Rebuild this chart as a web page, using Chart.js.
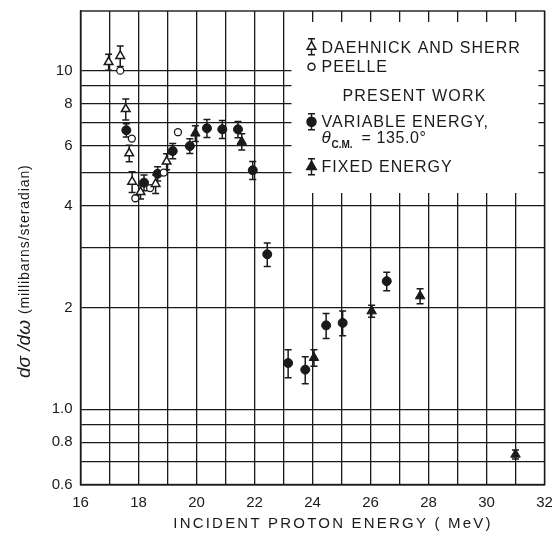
<!DOCTYPE html>
<html>
<head>
<meta charset="utf-8">
<script src="https://cdn.jsdelivr.net/npm/chart.js@4.4.1/dist/chart.umd.min.js"></script>
<style>
  body { margin: 0; background: #fff; }
  canvas { display: block; }
</style>
</head>
<body>
<canvas id="myChart" width="552" height="538"></canvas>
<script>
// values (MeV, millibarns/steradian)
var daehnickX = [16.97, 17.37, 17.56, 17.68, 17.78, 18.07, 18.59, 18.97];
var daehnickY = [10.6, 11.05, 7.7, 5.7, 4.70, 4.38, 4.63, 5.39];
var daehnickErr = [0.57, 0.77, 0.55, 0.32, 0.33, 0.20, 0.29, 0.29];

var peelleX = [17.37, 17.77, 17.89, 18.40, 18.87, 19.36];
var peelleY = [10.0, 6.3, 4.2, 4.5, 5.0, 6.58];

var variableX = [17.58, 18.19, 18.66, 19.18, 19.77, 20.36, 20.89, 21.43, 21.94, 22.44, 23.16, 23.75, 24.47, 25.04, 26.56];
var variableY = [6.67, 4.67, 4.96, 5.79, 5.99, 6.76, 6.71, 6.71, 5.08, 2.87, 1.37, 1.31, 1.77, 1.80, 2.39];
var variableErr = [0.30, 0.25, 0.24, 0.30, 0.30, 0.41, 0.41, 0.37, 0.31, 0.23, 0.13, 0.12, 0.15, 0.15, 0.15];

var fixedX = [19.96, 21.56, 24.05, 26.04, 27.71, 31.0];
var fixedY = [6.53, 6.17, 1.42, 1.95, 2.16, 0.736];
var fixedErr = [0.35, 0.34, 0.08, 0.08, 0.11, 0.023];

var yGridValues = [0.6, 0.7, 0.8, 0.9, 1, 2, 3, 4, 5, 6, 7, 8, 9, 10];
var yTickLabels = ['0.6', '0.8', '1.0', '2', '4', '6', '8', '10'];
var xTickLabels = ['16', '18', '20', '22', '24', '26', '28', '30', '32'];

var INK = '#1a1a1a';

function pts(xs, ys) {
    return xs.map(function (x, i) { return { x: x, y: ys[i] }; });
}

function spacedText(ctx, text, x, y, spacing) {
    ctx.letterSpacing = spacing + 'px';
    ctx.fillText(text, x, y);
    ctx.letterSpacing = '0px';
}

// error bars, drawn before the markers so open symbols cover them
var errorBars = {
    id: 'errorBars',
    beforeDatasetsDraw: function (chart) {
        var ctx = chart.ctx, a = chart.chartArea;
        var yScale = chart.scales.y;
        // white legend panel over the grid
        ctx.save();
        ctx.fillStyle = '#fff';
        ctx.fillRect(a.left + 211, a.top + 11, a.right - a.left - 217, 171);
        ctx.restore();

        ctx.save();
        ctx.strokeStyle = INK;
        ctx.lineWidth = 1.5;
        chart.data.datasets.forEach(function (ds, di) {
            if (!ds.errors) return;
            var meta = chart.getDatasetMeta(di);
            meta.data.forEach(function (el, i) {
                var v = ds.data[i].y, e = ds.errors[i];
                var y1 = yScale.getPixelForValue(v + e);
                var y2 = yScale.getPixelForValue(v - e);
                ctx.beginPath();
                ctx.moveTo(el.x, y1); ctx.lineTo(el.x, y2);
                ctx.moveTo(el.x - 3.5, y1); ctx.lineTo(el.x + 3.5, y1);
                ctx.moveTo(el.x - 3.5, y2); ctx.lineTo(el.x + 3.5, y2);
                ctx.stroke();
            });
        });
        ctx.restore();
    }
};

function legendBar(ctx, x, y) {
    ctx.beginPath();
    ctx.moveTo(x, y - 8); ctx.lineTo(x, y + 8);
    ctx.moveTo(x - 3.5, y - 8); ctx.lineTo(x + 3.5, y - 8);
    ctx.moveTo(x - 3.5, y + 8); ctx.lineTo(x + 3.5, y + 8);
    ctx.stroke();
}
function legendTriangle(ctx, x, y, r, filled) {
    ctx.beginPath();
    ctx.moveTo(x, y - r);
    ctx.lineTo(x + r * 0.866, y + r * 0.5);
    ctx.lineTo(x - r * 0.866, y + r * 0.5);
    ctx.closePath();
    ctx.fillStyle = filled ? INK : '#fff';
    ctx.fill();
    ctx.stroke();
}
function legendCircle(ctx, x, y, r, filled) {
    ctx.beginPath();
    ctx.arc(x, y, r, 0, Math.PI * 2);
    ctx.fillStyle = filled ? INK : '#fff';
    ctx.fill();
    ctx.stroke();
}

var frameAndText = {
    id: 'frameAndText',
    afterDatasetsDraw: function (chart) {
        var ctx = chart.ctx, a = chart.chartArea;
        ctx.save();
        ctx.strokeStyle = INK;
        ctx.lineWidth = 1.4;
        ctx.strokeRect(a.left, a.top, a.right - a.left, a.bottom - a.top);

        // legend
        var l = a.left + 211, t = a.top + 11;
        var sx = l + 20, tx = l + 30;
        ctx.lineWidth = 1.5;
        legendBar(ctx, sx, t + 24.7);
        legendTriangle(ctx, sx, t + 24.7, 5, false);
        legendCircle(ctx, sx, t + 44.7, 3.5, false);
        legendBar(ctx, sx, t + 99.7);
        legendCircle(ctx, sx, t + 99.7, 4.5, true);
        legendBar(ctx, sx, t + 144.7);
        legendTriangle(ctx, sx, t + 144.7, 5.5, true);

        ctx.fillStyle = INK;
        ctx.textBaseline = 'alphabetic';
        ctx.font = '16px "Liberation Sans"';
        ctx.textAlign = 'left';
        spacedText(ctx, 'DAEHNICK AND SHERR', tx, t + 31.3, 1.0);
        spacedText(ctx, 'PEELLE', tx, t + 49.7, 1.0);
        ctx.textAlign = 'center';
        spacedText(ctx, 'PRESENT WORK', l + 123, t + 78.7, 1.2);
        ctx.textAlign = 'left';
        spacedText(ctx, 'VARIABLE ENERGY,', tx, t + 104.7, 1.0);
        spacedText(ctx, 'FIXED ENERGY', tx, t + 149.7, 1.0);
        ctx.font = 'italic 17px "Liberation Sans"';
        ctx.fillText('θ', tx, t + 121.3);
        ctx.font = 'bold 10px "Liberation Sans"';
        ctx.fillText('C.M.', tx + 10, t + 125.5);
        ctx.font = '16px "Liberation Sans"';
        spacedText(ctx, '= 135.0°', tx + 40, t + 121.3, 0.6);

        // x title
        ctx.font = '15px "Liberation Sans"';
        ctx.textAlign = 'center';
        spacedText(ctx, 'INCIDENT PROTON ENERGY ( MeV)', 333, 528, 2.2);

        // y title
        ctx.translate(25, 378);
        ctx.rotate(-Math.PI / 2);
        ctx.textAlign = 'left';
        ctx.textBaseline = 'middle';
        ctx.font = 'italic 19px "Liberation Sans"';
        ctx.fillText('dσ /dω', 0, 0);
        var w = ctx.measureText('dσ /dω').width;
        ctx.font = '14px "Liberation Sans"';
        spacedText(ctx, '(millibarns/steradian)', w + 6, 0, 0.9);
        ctx.restore();
    }
};

var ctx = document.getElementById('myChart');
var myChart = new Chart(ctx, {
    type: 'scatter',
    data: {
        datasets: [{
            label: 'DAEHNICK AND SHERR',
            data: pts(daehnickX, daehnickY),
            errors: daehnickErr,
            pointStyle: 'triangle',
            radius: 5,
            backgroundColor: '#fff',
            borderColor: INK,
            borderWidth: 1.5
        }, {
            label: 'PEELLE',
            data: pts(peelleX, peelleY),
            pointStyle: 'circle',
            radius: 3.5,
            backgroundColor: '#fff',
            borderColor: INK,
            borderWidth: 1.3
        }, {
            label: 'VARIABLE ENERGY',
            data: pts(variableX, variableY),
            errors: variableErr,
            pointStyle: 'circle',
            radius: 4.5,
            backgroundColor: INK,
            borderColor: INK,
            borderWidth: 1
        }, {
            label: 'FIXED ENERGY',
            data: pts(fixedX, fixedY),
            errors: fixedErr,
            pointStyle: 'triangle',
            radius: 5.5,
            backgroundColor: INK,
            borderColor: INK,
            borderWidth: 1
        }]
    },
    options: {
        responsive: false,
        animation: false,
        devicePixelRatio: 1,
        layout: { padding: { top: 11, right: 7.5, left: 0, bottom: 0 } },
        plugins: { legend: { display: false }, tooltip: { enabled: false } },
        scales: {
            x: {
                type: 'linear',
                min: 16,
                max: 32,
                afterBuildTicks: function (scale) {
                    var t = [];
                    for (var v = 16; v <= 32; v++) t.push({ value: v });
                    scale.ticks = t;
                },
                afterFit: function (scale) {
                    scale.height = 53.5;
                    scale.paddingLeft = 0;
                    scale.paddingRight = 0;
                },
                ticks: {
                    autoSkip: false,
                    maxRotation: 0,
                    padding: 9,
                    color: INK,
                    font: { family: 'Liberation Sans', size: 15 },
                    callback: function (v) {
                        return xTickLabels.indexOf(String(v)) >= 0 ? String(v) : '';
                    }
                },
                grid: { color: INK, lineWidth: 1.3, drawTicks: false },
                border: { color: INK, width: 1.4 }
            },
            y: {
                type: 'logarithmic',
                min: 0.6,
                max: 15,
                afterBuildTicks: function (scale) {
                    scale.ticks = yGridValues.map(function (v) { return { value: v }; });
                },
                afterFit: function (scale) {
                    scale.width = 80.5;
                    scale.paddingTop = 0;
                    scale.paddingBottom = 0;
                },
                ticks: {
                    autoSkip: false,
                    padding: 8,
                    color: INK,
                    font: { family: 'Liberation Sans', size: 15 },
                    callback: function (v) {
                        var s = v === 1 ? '1.0' : String(v);
                        return yTickLabels.indexOf(s) >= 0 ? s : '';
                    }
                },
                grid: { color: INK, lineWidth: 1.3, drawTicks: false },
                border: { color: INK, width: 1.4 }
            }
        }
    },
    plugins: [errorBars, frameAndText]
});
</script>
</body>
</html>
